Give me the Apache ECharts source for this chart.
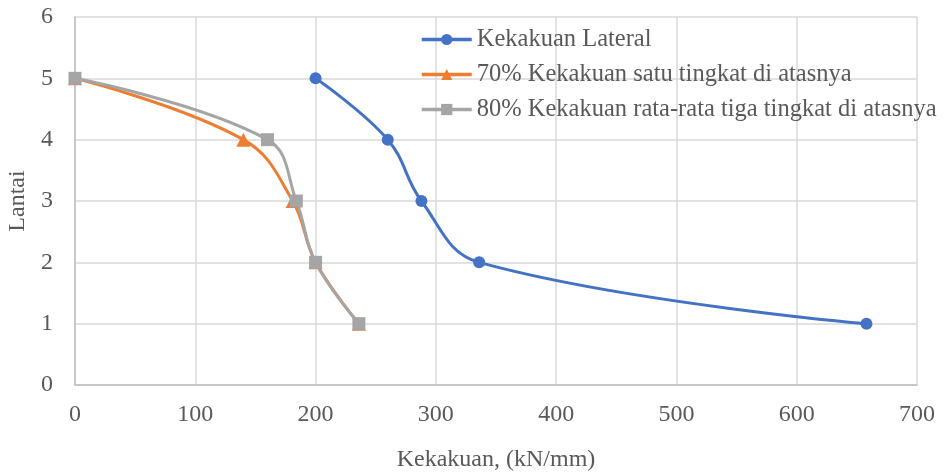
<!DOCTYPE html>
<html><head><meta charset="utf-8">
<script src="https://cdn.jsdelivr.net/npm/echarts@6/dist/echarts.min.js"></script>
<style>html,body{margin:0;padding:0;background:#fff}#c{width:944px;height:472px}</style>
</head><body><div id="c"></div>
<script>
const floors = [5, 4, 3, 2, 1];
const lateral = [200, 260, 288, 336, 658];
const satu70 = [0, 140, 181, 200, 236];
const rata80 = [0, 160, 184, 200, 236];
const seriesNames = ['Kekakuan Lateral', '70% Kekakuan satu tingkat di atasnya', '80% Kekakuan rata-rata tiga tingkat di atasnya'];
const xAxisTitle = 'Kekakuan, (kN/mm)';
const yAxisTitle = 'Lantai';

const pairs = (xs) => xs.map((x, i) => [x, floors[i]]);
const font = 'Liberation Serif';
const chart = echarts.init(document.getElementById('c'));
chart.setOption({
  animation: false,
  textStyle: {fontFamily: font},
  grid: {left: 75, right: 27, top: 17, bottom: 87, containLabel: false, outerBoundsMode: 'none'},
  legend: {
    left: 415, top: 22, orient: 'vertical', itemGap: 10,
    itemWidth: 50, itemHeight: 14,
    lineStyle: {width: 3.5},
    textStyle: {fontFamily: font, fontSize: 24.5, color: '#595959'},
    data: seriesNames
  },
  xAxis: {
    type: 'value', min: 0, max: 700, interval: 100,
    name: xAxisTitle, nameLocation: 'middle', nameGap: 63,
    nameTextStyle: {fontFamily: font, fontSize: 24, color: '#595959'},
    axisLine: {lineStyle: {color: '#bfbfbf', width: 1.5}},
    axisTick: {show: false},
    axisLabel: {fontFamily: font, fontSize: 24, color: '#595959', margin: 18},
    splitLine: {lineStyle: {color: '#d9d9d9', width: 1.5}}
  },
  yAxis: {
    type: 'value', min: 0, max: 6, interval: 1,
    name: yAxisTitle, nameLocation: 'middle', nameGap: 45,
    nameTextStyle: {fontFamily: font, fontSize: 24, color: '#595959'},
    axisLine: {show: true, lineStyle: {color: '#bfbfbf', width: 1.5}},
    axisTick: {show: false},
    axisLabel: {fontFamily: font, fontSize: 24, color: '#595959', margin: 22},
    splitLine: {lineStyle: {color: '#d9d9d9', width: 1.5}}
  },
  series: [
    {name: seriesNames[0], type: 'line', data: pairs(lateral), smooth: 0.4,
     symbol: 'circle', symbolSize: 12,
     lineStyle: {color: '#4472c4', width: 3}, itemStyle: {color: '#4472c4'}},
    {name: seriesNames[1], type: 'line', data: pairs(satu70), smooth: 0.4,
     symbol: 'triangle', symbolSize: 14,
     lineStyle: {color: '#ed7d31', width: 3}, itemStyle: {color: '#ed7d31'}},
    {name: seriesNames[2], type: 'line', data: pairs(rata80), smooth: 0.4,
     symbol: 'rect', symbolSize: 13,
     lineStyle: {color: '#a5a5a5', width: 3}, itemStyle: {color: '#a5a5a5'}}
  ]
});
</script></body></html>
